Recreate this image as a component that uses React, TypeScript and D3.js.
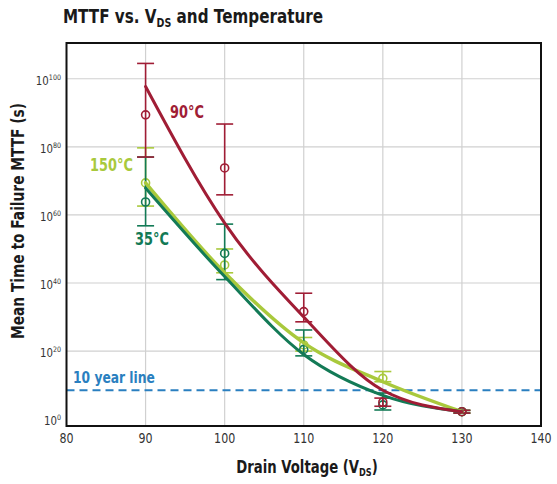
import React from 'react';
import * as d3 from 'd3';

// ---------- data (exponents of seconds, i.e. log10 MTTF) ----------
const voltages = [90, 100, 110, 120, 130];
const xTicks = [80, 90, 100, 110, 120, 130, 140];
const yTickExps = [0, 20, 40, 60, 80, 100];
const gridXValues = [90, 100, 110, 120, 130];
const gridYExps = [20, 40, 60, 80, 100];

const fit90 = [97.7, 57.6, 30, 8.5, 2.2];
const fit150 = [69.4, 43, 22.4, 11, 2.2];
const fit35 = [67.9, 41.9, 19, 7, 2.2];

const mean90 = [89.4, 73.8, 31.6, 5, 2.2];
const low90 = [77, 65.9, 28.6, 3.8, 1.8];
const high90 = [104.5, 86.7, 37, 6.2, 2.6];

const mean150 = [69.4, 45.3, 21.8, 12, 2.2];
const low150 = [62.6, 43, 20, 11, 1.8];
const high150 = [79.7, 50, 24, 14, 2.6];

const mean35 = [63.8, 48.7, 20.5, 4.2, 2.2];
const low35 = [56.8, 41, 18.6, 2.7, 1.8];
const high35 = [77, 57.3, 26.2, 7.7, 2.6];

const tenYearExp = Math.log10(10 * 365.25 * 24 * 3600);

const C90 = '#a01d35';
const C150 = '#a9c93c';
const C35 = '#137a56';
const CBLUE = '#2a7fc0';

const FONT = "'DejaVu Sans', sans-serif";

const W = 557, H = 484;
const M = { left: 66.5, right: 541, top: 43, bottom: 426 };

function CText(props: any) {
  const { x, y, sx = 0.82, rotate = 0, children, ...rest } = props;
  return (
    <g transform={`translate(${x},${y}) rotate(${rotate}) scale(${sx},1)`}>
      <text x={0} y={0} {...rest}>
        {children}
      </text>
    </g>
  );
}

export default function App() {
  const x = d3.scaleLinear().domain([80, 140]).range([M.left, M.right]);
  const y = d3.scaleLinear().domain([-2, 110.5]).range([M.bottom, M.top]);

  const line = d3
    .line<[number, number]>()
    .x((d) => x(d[0]))
    .y((d) => y(d[1]))
    .curve(d3.curveMonotoneX);

  const series = [
    { name: '150', fit: fit150, mean: mean150, low: low150, high: high150, color: C150, width: 3.5 },
    { name: '35', fit: fit35, mean: mean35, low: low35, high: high35, color: C35, width: 3 },
    { name: '90', fit: fit90, mean: mean90, low: low90, high: high90, color: C90, width: 3 },
  ];

  const capW = 8.5;

  return (
    <svg width={W} height={H} style={{ position: 'absolute', left: 0, top: 0, background: '#fff' }} fontFamily={FONT}>
      <rect x={0} y={0} width={W} height={H} fill="#fff" />
      {/* title */}
      <CText x={63} y={23} sx={0.76} fontSize={20} fontWeight="bold" fill="#1a1a1a">
        MTTF vs. V<tspan fontSize={12.5} dy={4}>DS</tspan>
        <tspan dy={-4}> and Temperature</tspan>
      </CText>

      {/* grid */}
      {gridXValues.map((v) => (
        <line key={'gx' + v} x1={x(v)} x2={x(v)} y1={M.top} y2={M.bottom} stroke="#d0d0d0" strokeWidth={1.2} />
      ))}
      {gridYExps.map((e) => (
        <line key={'gy' + e} x1={M.left} x2={M.right} y1={y(e)} y2={y(e)} stroke="#d0d0d0" strokeWidth={1.2} />
      ))}

      {/* 10 year line */}
      <line
        x1={M.left}
        x2={M.right}
        y1={y(tenYearExp)}
        y2={y(tenYearExp)}
        stroke={CBLUE}
        strokeWidth={2}
        strokeDasharray="8,5"
      />
      <CText x={73} y={y(tenYearExp) - 7} sx={0.82} fontSize={15} fontWeight="bold" fill={CBLUE}>
        10 year line
      </CText>

      {/* error bars */}
      {series.map((s) => (
        <g key={'eb' + s.name} stroke={s.color} strokeWidth={1.6} fill="none">
          {voltages.map((v, i) => (
            <g key={v}>
              <line x1={x(v)} x2={x(v)} y1={y(s.low[i])} y2={y(s.high[i])} />
              <line x1={x(v) - capW} x2={x(v) + capW} y1={y(s.low[i])} y2={y(s.low[i])} />
              <line x1={x(v) - capW} x2={x(v) + capW} y1={y(s.high[i])} y2={y(s.high[i])} />
              <circle cx={x(v)} cy={y(s.mean[i])} r={4} />
            </g>
          ))}
        </g>
      ))}

      {/* fit lines */}
      {series.map((s) => (
        <path
          key={'ln' + s.name}
          d={line(voltages.map((v, i) => [v, s.fit[i]] as [number, number])) || ''}
          stroke={s.color}
          strokeWidth={s.width}
          fill="none"
          strokeLinecap="round"
        />
      ))}

      {/* frame */}
      <rect
        x={M.left}
        y={M.top}
        width={M.right - M.left}
        height={M.bottom - M.top}
        fill="none"
        stroke="#111"
        strokeWidth={2}
      />

      {/* series labels */}
      <CText x={170} y={118} sx={0.76} fontSize={17} fontWeight="bold" fill={C90}>90°C</CText>
      <CText x={90} y={171} sx={0.76} fontSize={17} fontWeight="bold" fill={C150}>150°C</CText>
      <CText x={135} y={245} sx={0.76} fontSize={17} fontWeight="bold" fill={C35}>35°C</CText>

      {/* x ticks */}
      {xTicks.map((v) => (
        <CText key={'xt' + v} x={x(v)} y={443} sx={0.82} fontSize={13.5} textAnchor="middle" fill="#333">
          {v}
        </CText>
      ))}
      {/* y ticks */}
      {yTickExps.map((e) => (
        <CText key={'yt' + e} x={61} y={y(e) + 6} sx={0.85} fontSize={12} textAnchor="end" fill="#333">
          10<tspan fontSize={7.5} dy={-5}>{e}</tspan>
        </CText>
      ))}

      {/* axis titles */}
      <CText x={307} y={473} sx={0.78} fontSize={17} fontWeight="bold" textAnchor="middle" fill="#1a1a1a">
        Drain Voltage (V<tspan fontSize={10.5} dy={3}>DS</tspan>
        <tspan dy={-3}>)</tspan>
      </CText>
      <g transform="translate(24, 221) rotate(-90) scale(0.81,1)">
        <text x={0} y={0} fontSize={17} fontWeight="bold" textAnchor="middle" fill="#1a1a1a">
          Mean Time to Failure MTTF (s)
        </text>
      </g>
    </svg>
  );
}
